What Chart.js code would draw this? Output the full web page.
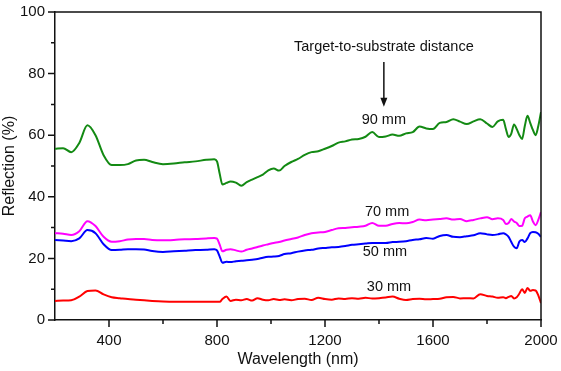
<!DOCTYPE html>
<html>
<head>
<meta charset="utf-8">
<script src="https://cdn.jsdelivr.net/npm/chart.js@4"></script>
<style>
  html, body { margin: 0; padding: 0; background: #fff; }
  #wrap { width: 561px; height: 371px; }
</style>
</head>
<body>
<div id="wrap"><canvas id="reflChart"></canvas></div>
<script>
// wavelength grid (nm)
const wavelengths = [200, 230, 260, 290, 320, 350, 380, 410, 440, 470, 500, 530, 560, 600, 640, 680, 720, 760, 790, 800,
  810, 820, 835, 850, 870, 890, 910, 930, 950, 970, 990, 1010, 1030, 1050, 1075, 1100, 1125, 1150, 1175, 1200,
  1225, 1250, 1275, 1300, 1325, 1350, 1375, 1400, 1425, 1450, 1475, 1500, 1525, 1550, 1575, 1600, 1625, 1650, 1675, 1700,
  1725, 1750, 1775, 1800, 1820, 1840, 1860, 1870, 1880, 1890, 1900, 1910, 1920, 1930, 1940, 1950, 1960, 1970, 1980, 1990, 2000];

const refl90 = [55.6, 55.8, 54.5, 57.5, 63.2, 60, 53.5, 50.3, 50.3, 50.6, 51.8, 52, 51.3, 50.6, 50.8, 51.2, 51.5, 52, 52.2, 51.5,
  47.5, 44, 44.5, 45, 44.6, 43.6, 44.8, 45.6, 46.4, 47.2, 48.6, 49.2, 48.5, 50, 51.3, 52.3, 53.6, 54.5, 54.8, 55.6,
  56.5, 57.6, 58, 58.6, 58.8, 59.5, 61, 59.4, 59.6, 60.2, 59.8, 60.6, 61, 62.8, 62.2, 62, 64, 64.3, 65.2, 64.4,
  63.6, 64.5, 65.2, 63.8, 62.7, 64.5, 65, 62, 59.4, 60.5, 63.5, 62, 60, 58.8, 63, 66.3, 64, 61.7, 60, 63, 67.5];

const refl70 = [28.2, 28, 27.6, 28.8, 32.1, 30.5, 27, 25.4, 25.6, 26.1, 26.3, 26.3, 26, 25.9, 26, 26.2, 26.3, 26.5, 26.6, 26.4,
  24.5, 22.3, 22.8, 23, 22.6, 22.2, 22.8, 23.2, 23.7, 24.2, 24.6, 25, 25.3, 25.8, 26.3, 26.8, 27.6, 28.2, 28.4, 28.6,
  29.2, 29.8, 29.9, 30.1, 30.3, 30.6, 31.5, 30.6, 30.6, 31.2, 31.5, 31.4, 31.8, 32.6, 32.4, 32.6, 32.8, 33, 32.6, 32.8,
  32.1, 32.5, 33, 33.4, 32.7, 33, 32.5, 31.2, 31.5, 32.8, 32, 31.5, 30.5, 30.6, 33, 33.6, 34, 32, 30.8, 32.5, 35];

const refl50 = [26, 25.8, 25.6, 26.5, 29.2, 28.2, 24.6, 22.7, 22.8, 23, 23, 22.9, 22.4, 22.1, 22.3, 22.5, 22.7, 22.8, 23, 22.6,
  20.6, 18.6, 18.9, 18.8, 19.1, 19.2, 19.4, 19.6, 19.8, 20.2, 20.5, 20.6, 20.8, 21.4, 21.7, 22.2, 22.6, 22.8, 23.2, 23.4,
  23.6, 23.7, 24, 24.4, 24.6, 24.8, 25, 25, 25, 25.3, 25.4, 25.6, 26, 26.2, 26.6, 26.4, 27.3, 27.6, 27, 26.9,
  27.2, 27.5, 28.2, 27.8, 27.6, 27.8, 28.2, 27.8, 27, 25.3, 23.8, 23.3, 25.5, 26, 25.3, 26.5, 28.2, 28.6, 28.5, 28, 27];

const refl30 = [6.2, 6.3, 6.4, 7.6, 9.4, 9.6, 8.3, 7.4, 7.1, 6.8, 6.6, 6.4, 6.2, 6.0, 5.9, 5.9, 5.9, 5.9, 5.9, 5.9,
  5.9, 6.8, 7.6, 6.2, 6.6, 6.4, 6.8, 6.3, 7.1, 6.6, 6.4, 6.8, 6.5, 6.7, 6.4, 6.8, 6.9, 6.5, 7.2, 6.8,
  6.6, 7.0, 6.8, 7.1, 6.9, 7.2, 7.0, 7.1, 7.3, 7.6, 6.9, 6.5, 6.8, 6.9, 6.7, 6.8, 6.9, 7.4, 7.5, 7.0,
  7.1, 7.0, 8.4, 7.8, 7.6, 7.2, 7.4, 7.1, 7.5, 7.8, 7.0, 7.4, 8.6, 10, 8.8, 10.4, 9.5, 9.7, 9.6, 8.0, 5.5];

// series labels and where they sit (data coords)
const seriesNames = ['90 mm', '70 mm', '50 mm', '30 mm'];
const seriesColors = ['#138a13', '#ff00ff', '#0000ff', '#ff0000'];
const labelSpots = [[1418, 64.9], [1430, 35.1], [1422, 22.1], [1437, 10.7]];

const FONT = '"Liberation Sans", Arial, sans-serif';

function toPoints(ys) {
  return ys.map((y, i) => ({ x: wavelengths[i], y: y }));
}

// frame, ticks, text labels and the arrow
const decorPlugin = {
  id: 'decor',
  afterDatasetsDraw(chart) {
    const { ctx, chartArea: a, scales: { x, y } } = chart;
    ctx.save();
    ctx.strokeStyle = '#111';
    ctx.lineWidth = 1.5;
    ctx.beginPath();
    ctx.moveTo(a.left, a.top); ctx.lineTo(a.right, a.top); ctx.lineTo(a.right, a.bottom);
    ctx.stroke();

    ctx.beginPath();
    for (let v = 400; v <= 2000; v += 200) {
      const px = x.getPixelForValue(v);
      const len = v % 400 === 0 ? 7 : 4;
      ctx.moveTo(px, a.bottom); ctx.lineTo(px, a.bottom + len);
    }
    for (let v = 0; v <= 100; v += 10) {
      const py = y.getPixelForValue(v);
      const len = v % 20 === 0 ? 7 : 4;
      ctx.moveTo(a.left - len, py); ctx.lineTo(a.left, py);
    }
    ctx.stroke();

    ctx.fillStyle = '#111';
    ctx.font = '14.5px ' + FONT;
    ctx.textAlign = 'center';
    ctx.textBaseline = 'middle';
    ctx.fillText('Target-to-substrate distance', x.getPixelForValue(1418), y.getPixelForValue(88.6));
    labelSpots.forEach((p, i) => {
      ctx.fillText(seriesNames[i], x.getPixelForValue(p[0]), y.getPixelForValue(p[1]));
    });

    // arrow
    const ax = x.getPixelForValue(1418);
    const y0 = y.getPixelForValue(83.8), y1 = y.getPixelForValue(69.2);
    ctx.lineWidth = 1.5;
    ctx.beginPath();
    ctx.moveTo(ax, y0); ctx.lineTo(ax, y1 - 7);
    ctx.stroke();
    ctx.beginPath();
    ctx.moveTo(ax - 3.5, y1 - 9); ctx.lineTo(ax + 3.5, y1 - 9); ctx.lineTo(ax, y1);
    ctx.closePath();
    ctx.fill();
    ctx.restore();
  }
};

const datasets = [refl90, refl70, refl50, refl30].map((ys, i) => ({
  label: seriesNames[i],
  data: toPoints(ys),
  borderColor: seriesColors[i],
  borderWidth: 2,
  pointRadius: 0,
  cubicInterpolationMode: 'monotone',
  fill: false
}));

new Chart(document.getElementById('reflChart').getContext('2d'), {
  type: 'line',
  data: { datasets: datasets },
  options: {
    responsive: true,
    maintainAspectRatio: false,
    animation: false,
    layout: { padding: { top: 12, right: 20, left: 0, bottom: 0 } },
    plugins: { legend: { display: false }, tooltip: { enabled: false } },
    scales: {
      x: {
        type: 'linear',
        min: 200,
        max: 2000,
        afterFit: (s) => { s.height = 51; s.paddingLeft = 0; s.paddingRight = 0; },
        grid: { display: false, drawTicks: false },
        border: { display: true, color: '#111', width: 1.5 },
        ticks: {
          stepSize: 200,
          autoSkip: false,
          maxRotation: 0,
          padding: 12,
          color: '#111',
          font: { family: FONT, size: 15 },
          callback: (v) => (v % 400 === 0 ? v : '')
        },
        title: {
          display: true,
          text: 'Wavelength (nm)',
          color: '#111',
          font: { family: FONT, size: 16 },
          padding: { top: 0, bottom: 2 }
        }
      },
      y: {
        min: 0,
        max: 100,
        afterFit: (s) => { s.width = 55; s.paddingTop = 0; s.paddingBottom = 0; },
        grid: { display: false, drawTicks: false },
        border: { display: true, color: '#111', width: 1.5 },
        ticks: {
          stepSize: 10,
          autoSkip: false,
          padding: 10,
          color: '#111',
          font: { family: FONT, size: 15 },
          callback: (v) => (v % 20 === 0 ? v : '')
        },
        title: {
          display: true,
          text: 'Reflection (%)',
          color: '#111',
          font: { family: FONT, size: 16 },
          padding: { top: 0, bottom: 0 }
        }
      }
    }
  },
  plugins: [decorPlugin]
});
</script>
</body>
</html>
